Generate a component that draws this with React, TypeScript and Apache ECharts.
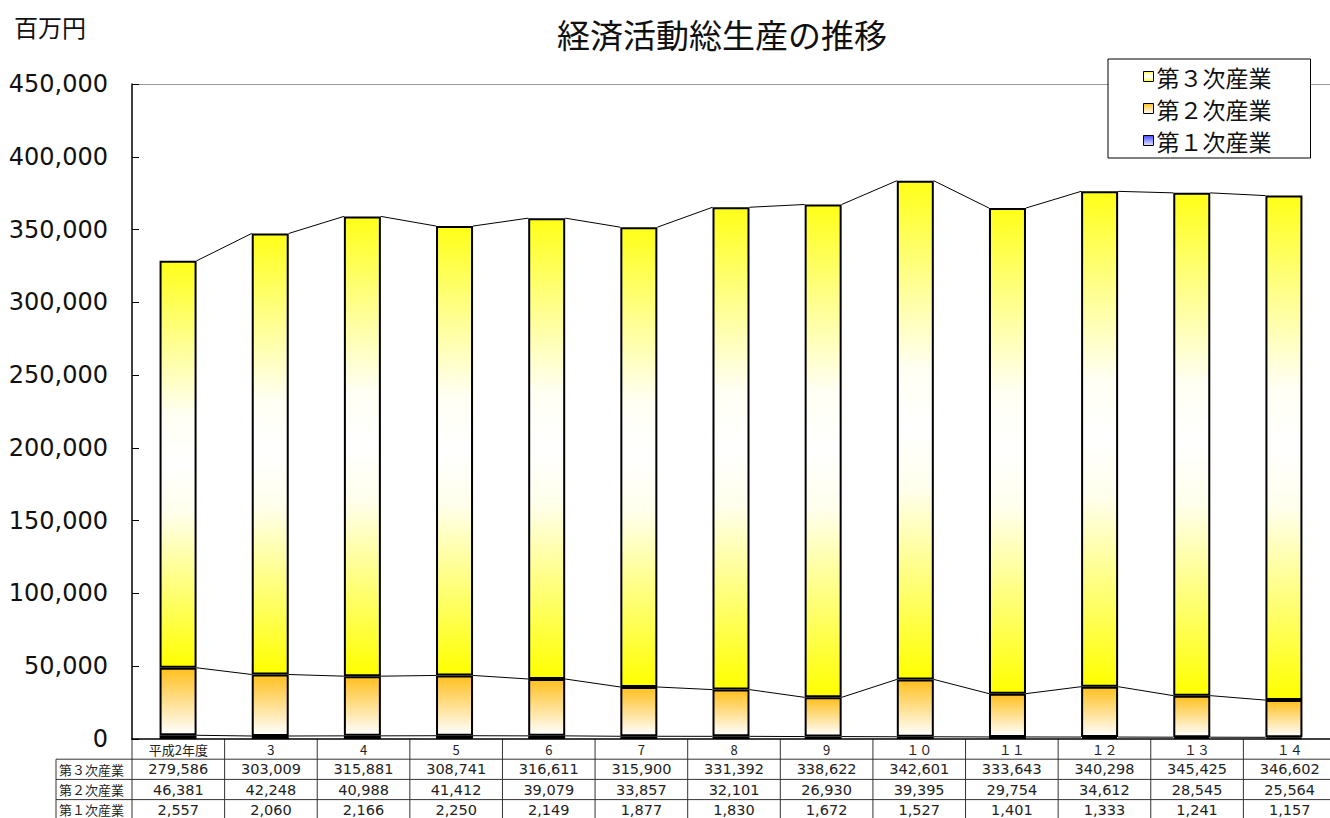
import React, { useEffect, useRef } from "react";
import * as echarts from "echarts";

const categories = ["平成2年度", "3", "4", "5", "6", "7", "8", "9", "１０", "１１", "１２", "１３", "１４"];
const tertiary = [279586, 303009, 315881, 308741, 316611, 315900, 331392, 338622, 342601, 333643, 340298, 345425, 346602];
const secondary = [46381, 42248, 40988, 41412, 39079, 33857, 32101, 26930, 39395, 29754, 34612, 28545, 25564];
const primary = [2557, 2060, 2166, 2250, 2149, 1877, 1830, 1672, 1527, 1401, 1333, 1241, 1157];
const seriesNames = ["第１次産業", "第２次産業", "第３次産業"];
const tableRowNames = ["第３次産業", "第２次産業", "第１次産業"];
const Y_MAX = 450000;
const Y_INTERVAL = 50000;

const GRID_LEFT = 132;
const GRID_TOP = 84;
const GRID_W = 1204;
const GRID_H = 655;
const BAR_W = 37;
const ROW_H = 20.2;
const HEAD_LEFT = 56;
const FONT = "'Noto Sans CJK JP', 'DejaVu Sans', sans-serif";
const NUM_FONT = "'DejaVu Sans', 'Noto Sans CJK JP', sans-serif";

const fmt = (v: number) => v.toLocaleString("en-US");

export default function App() {
  const ref = useRef<HTMLDivElement>(null);
  useEffect(() => {
    if (!ref.current) return;
    const chart = echarts.init(ref.current, undefined, { renderer: "svg" });

    const lvl1 = primary.slice();
    const lvl2 = primary.map((v, i) => v + secondary[i]);
    const lvl3 = lvl2.map((v, i) => v + tertiary[i]);
    const segs = (arr: number[]) => arr.slice(0, -1).map((v, i) => [i, v, arr[i + 1]]);

    const seriesLine = (arr: number[]) => ({
      type: "custom",
      silent: true,
      z: 1,
      data: segs(arr),
      encode: { x: 0, y: [1, 2] },
      renderItem: (_p: any, api: any) => {
        const i = api.value(0);
        const a = api.coord([i, api.value(1)]);
        const b = api.coord([i + 1, api.value(2)]);
        return {
          type: "line",
          shape: { x1: a[0] + BAR_W / 2, y1: a[1], x2: b[0] - BAR_W / 2, y2: b[1] },
          style: { stroke: "#000", lineWidth: 1 },
        };
      },
    });

    const grad = (stops: [number, string][]) =>
      new echarts.graphic.LinearGradient(0, 0, 0, 1, stops.map(([offset, color]) => ({ offset, color })));

    const colors = [
      grad([[0, "#4848FF"], [1, "#E8E8FF"]]),
      grad([[0, "#FFC020"], [1, "#FFFFFF"]]),
      grad([
        [0, "#FFFF18"],
        [0.2, "#FFFF90"],
        [0.38, "#FFFFF4"],
        [0.5, "#FFFFFF"],
        [0.62, "#FFFFEC"],
        [0.82, "#FFFF70"],
        [1, "#FFFF00"],
      ]),
    ];
    const datas = [primary, secondary, tertiary];

    // table graphic
    const CW = GRID_W / categories.length;
    const tableTop = GRID_TOP + GRID_H;
    const g: any[] = [];
    const lineStyle = { stroke: "#333", lineWidth: 1 };
    for (let r = 1; r <= 4; r++) {
      const y = tableTop + r * ROW_H;
      g.push({ type: "line", shape: { x1: HEAD_LEFT, y1: y, x2: GRID_LEFT + GRID_W, y2: y }, style: lineStyle, silent: true });
    }
    g.push({ type: "line", shape: { x1: HEAD_LEFT, y1: tableTop + ROW_H, x2: HEAD_LEFT, y2: tableTop + 5 * ROW_H }, style: lineStyle, silent: true });
    for (let i = 0; i < categories.length; i++) {
      const x = GRID_LEFT + i * CW;
      g.push({ type: "line", shape: { x1: x, y1: tableTop, x2: x, y2: tableTop + 5 * ROW_H }, style: lineStyle, silent: true });
    }
    categories.forEach((c, i) => {
      g.push({
        type: "text", silent: true,
        x: GRID_LEFT + (i + 0.5) * CW, y: tableTop + ROW_H / 2,
        style: { text: c, align: "center", verticalAlign: "middle", fill: "#222", font: `13px ${FONT}` },
      });
    });
    const rows = [tertiary, secondary, primary];
    rows.forEach((arr, r) => {
      const yc = tableTop + (r + 1.5) * ROW_H;
      g.push({
        type: "text", silent: true, x: HEAD_LEFT + 3, y: yc,
        style: { text: tableRowNames[r], align: "left", verticalAlign: "middle", fill: "#222", font: `13px ${FONT}` },
      });
      arr.forEach((v, i) => {
        g.push({
          type: "text", silent: true,
          x: GRID_LEFT + (i + 0.5) * CW, y: yc,
          style: { text: fmt(v), align: "center", verticalAlign: "middle", fill: "#222", font: `14.5px ${NUM_FONT}` },
        });
      });
    });
    g.push({
      type: "text", silent: true, x: 14, y: 26,
      style: { text: "百万円", align: "left", verticalAlign: "middle", fill: "#111", font: `24px ${FONT}` },
    });

    chart.setOption({
      animation: false,
      backgroundColor: "#fff",
      title: {
        text: "経済活動総生産の推移",
        left: 717,
        top: 29,
        textAlign: "center",
        textVerticalAlign: "middle",
        textStyle: { fontFamily: FONT, fontSize: 33, fontWeight: "normal", color: "#111" },
      },
      legend: {
        data: ["第３次産業", "第２次産業", "第１次産業"],
        orient: "vertical",
        left: 1108,
        top: 59,
        padding: [6, 39, 6, 35],
        itemGap: 9,
        itemWidth: 10,
        itemHeight: 10,
        icon: "rect",
        backgroundColor: "#fff",
        borderColor: "#000",
        borderWidth: 1,
        borderRadius: 0,
        itemStyle: { borderWidth: 1, borderColor: "#000" },
        textStyle: { fontFamily: FONT, fontSize: 23, color: "#111", padding: [0, 0, 0, -2] },
        z: 10,
      },
      grid: {
        left: GRID_LEFT,
        top: GRID_TOP,
        width: GRID_W,
        height: GRID_H,
        show: false,
      },
      xAxis: [
        {
          type: "category",
          data: categories,
          axisLine: { show: true, lineStyle: { color: "#000", width: 1.5 } },
          axisTick: { show: false },
          axisLabel: { show: false },
          splitLine: { show: false },
        },
        {
          type: "category",
          data: categories,
          position: "top",
          axisLine: { show: true, lineStyle: { color: "#999", width: 1 } },
          axisTick: { show: false },
          axisLabel: { show: false },
          splitLine: { show: false },
        },
      ],
      yAxis: {
        type: "value",
        min: 0,
        max: Y_MAX,
        interval: Y_INTERVAL,
        axisLine: { show: true, lineStyle: { color: "#000", width: 1.5 } },
        axisTick: { show: true, inside: true, length: 7, lineStyle: { color: "#000" } },
        splitLine: { show: false },
        axisLabel: {
          margin: 24,
          fontFamily: NUM_FONT,
          fontSize: 24,
          color: "#111",
          formatter: (v: number) => fmt(v),
        },
      },
      series: [
        ...datas.map((d, k) => ({
          type: "bar",
          name: seriesNames[k],
          stack: "total",
          barWidth: BAR_W,
          data: d,
          z: 2,
          itemStyle: { color: colors[k], borderColor: "#000", borderWidth: 2 },
        })),
        seriesLine(lvl1),
        seriesLine(lvl2),
        seriesLine(lvl3),
      ],
      graphic: g,
    });
    return () => chart.dispose();
  }, []);
  return <div ref={ref} style={{ position: "absolute", left: 0, top: 0, width: 1330, height: 818 }} />;
}
